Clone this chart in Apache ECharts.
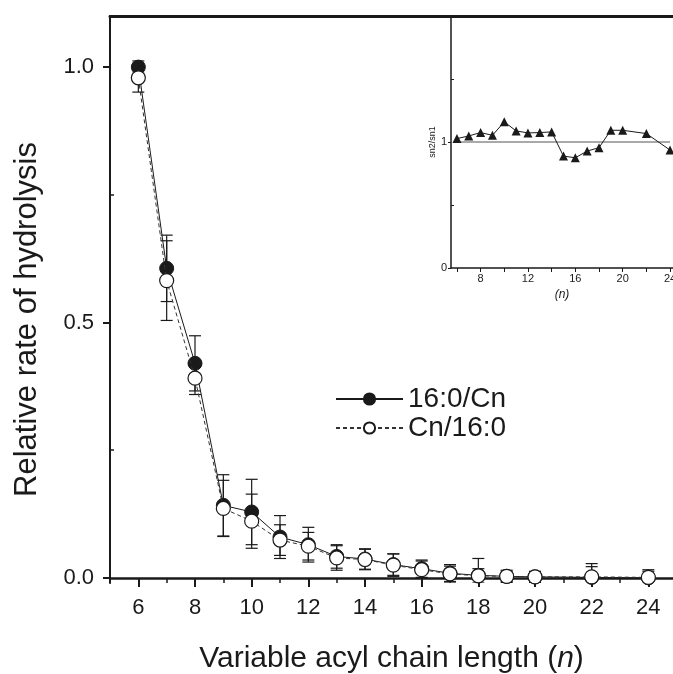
<!DOCTYPE html>
<html>
<head>
<meta charset="utf-8">
<script src="https://cdn.jsdelivr.net/npm/echarts@6/dist/echarts.min.js"></script>
<style>
html,body{margin:0;padding:0;background:#fff;}
#chart{width:673px;height:674px;}
</style>
</head>
<body>
<div id="chart"></div>
<script>
// chain length n of the variable acyl chain
let chainLength=[6,7,8,9,10,11,12,13,14,15,16,17,18,19,20,22,24];
// 16:0/Cn (filled circles)
let rateA=[1.0,0.606,0.42,0.142,0.129,0.080,0.065,0.042,0.037,0.026,0.018,0.009,0.005,0.003,0.002,0.001,0.0];
let errA=[0.012,0.065,0.054,0.060,0.064,0.042,0.034,0.023,0.020,0.021,0.017,0.017,0.033,0.012,0.011,0.027,0.016];
// Cn/16:0 (open circles)
let rateB=[0.979,0.582,0.391,0.136,0.111,0.074,0.062,0.039,0.036,0.025,0.016,0.008,0.004,0.003,0.002,0.002,0.001];
let errB=[0.028,0.078,0.032,0.055,0.053,0.030,0.027,0.024,0.020,0.022,0.017,0.015,0.014,0.010,0.010,0.020,0.012];
// inset: sn2/sn1
let ratio=[1.027,1.048,1.075,1.053,1.160,1.088,1.072,1.075,1.080,0.888,0.875,0.928,0.955,1.093,1.093,1.067,0.936];
let refLine=[[6,1],[24,1]];

let xTicks=[6,8,10,12,14,16,18,20,22,24];
let xMinorTicks=[5,7,9,11,13,15,17,19,21,23];
let yTicks=[0,0.5,1.0];
let yMinorTicks=[0.25,0.75];
let insetXTicks=[6,8,10,12,14,16,18,20,22,24];
let insetXLabels=[8,12,16,20,24];
let insetYTicks=[0,1];
let insetYMinorTicks=[0.5,1.5];

const font='"Liberation Sans", Arial, Helvetica, sans-serif';
const ink='#1a1a1a';

function errData(values,errs){
    return chainLength.map(function(x,i){ return [x,values[i]-errs[i],values[i]+errs[i]]; });
}

function renderErr(params,api){
    let x=api.value(0);
    let lo=api.coord([x,api.value(1)]);
    let hi=api.coord([x,api.value(2)]);
    let half=6;
    let st={stroke:ink,lineWidth:1.2};
    let cs=params.coordSys;
    return {
        type:'group',
        clipPath:{type:'rect',shape:{x:cs.x,y:cs.y,width:cs.width,height:cs.height}},
        children:[
            {type:'line',shape:{x1:lo[0],y1:lo[1],x2:hi[0],y2:hi[1]},style:st},
            {type:'line',shape:{x1:lo[0]-half,y1:lo[1],x2:lo[0]+half,y2:lo[1]},style:st},
            {type:'line',shape:{x1:hi[0]-half,y1:hi[1],x2:hi[0]+half,y2:hi[1]},style:st}
        ]
    };
}

function pairs(xs,ys){
    return xs.map(function(x,i){ return [x,ys[i]]; });
}

let chart=echarts.init(document.getElementById('chart'),null,{renderer:'canvas'});

let option={
    backgroundColor:'#fff',
    animation:false,
    textStyle:{fontFamily:font,color:ink},
    grid:[
        {left:110,top:16,right:0,bottom:91,outerBoundsMode:'none',containLabel:false},
        {left:451,top:16,width:222,height:252,outerBoundsMode:'none',containLabel:false,
         show:true,backgroundColor:'#fff',borderWidth:0}
    ],
    legend:{
        orient:'vertical',
        left:330,
        top:380,
        itemGap:1,
        itemWidth:67,
        itemHeight:14,
        textStyle:{fontFamily:font,fontSize:28,color:ink,padding:[0,0,0,0]},
        data:['16:0/Cn','Cn/16:0']
    },
    xAxis:[
        {
            type:'value',gridIndex:0,min:5,max:24.87,position:'bottom',
            axisLine:{show:true,lineStyle:{color:ink,width:2.5}},
            axisTick:{show:true,length:9,customValues:xTicks,lineStyle:{color:ink,width:2}},
            axisLabel:{show:true,customValues:xTicks,fontSize:22,color:ink,margin:14,fontFamily:font},
            splitLine:{show:false},
            name:'Variable acyl chain length ({i|n})',
            nameLocation:'middle',
            nameGap:61,
            nameTextStyle:{fontSize:30,color:ink,fontFamily:font,
                rich:{i:{fontSize:30,fontStyle:'italic',color:ink,fontFamily:font}}}
        },
        {
            type:'value',gridIndex:0,min:5,max:24.87,position:'bottom',
            axisLine:{show:false},
            axisTick:{show:true,length:5,customValues:xMinorTicks,lineStyle:{color:ink,width:1.5}},
            axisLabel:{show:false},
            splitLine:{show:false}
        },
        {
            type:'value',gridIndex:0,min:5,max:24.87,position:'top',
            axisLine:{show:true,lineStyle:{color:ink,width:3}},
            axisTick:{show:false},axisLabel:{show:false},splitLine:{show:false}
        },
        {
            type:'value',gridIndex:1,min:5.5,max:24.25,position:'bottom',
            axisLine:{show:true,lineStyle:{color:ink,width:1.5}},
            axisTick:{show:true,length:4,customValues:insetXTicks,lineStyle:{color:ink,width:1}},
            axisLabel:{show:true,customValues:insetXLabels,fontSize:11,color:ink,margin:5,fontFamily:font},
            splitLine:{show:false},
            name:'(n)',nameLocation:'middle',nameGap:21,
            nameTextStyle:{fontSize:12,fontStyle:'italic',color:ink,fontFamily:font}
        }
    ],
    yAxis:[
        {
            type:'value',gridIndex:0,min:-0.01,max:1.1,position:'left',
            axisLine:{show:true,lineStyle:{color:ink,width:2}},
            axisTick:{show:true,length:7,customValues:yTicks,lineStyle:{color:ink,width:2}},
            axisLabel:{show:true,customValues:yTicks,fontSize:22,color:ink,margin:16,fontFamily:font,
                formatter:function(v){ return v.toFixed(1); }},
            splitLine:{show:false},
            name:'Relative rate of hydrolysis',
            nameLocation:'middle',
            nameGap:67,
            nameTextStyle:{fontSize:31,color:ink,fontFamily:font,padding:[0,40,0,0]}
        },
        {
            type:'value',gridIndex:0,min:-0.01,max:1.1,position:'left',
            axisLine:{show:false},
            axisTick:{show:true,inside:true,length:4,customValues:yMinorTicks,lineStyle:{color:ink,width:1.5}},
            axisLabel:{show:false},splitLine:{show:false}
        },
        {
            type:'value',gridIndex:1,min:0,max:2,position:'left',
            axisLine:{show:true,lineStyle:{color:ink,width:1.5}},
            axisTick:{show:true,length:3,customValues:insetYTicks,lineStyle:{color:ink,width:1}},
            axisLabel:{show:true,customValues:insetYTicks,fontSize:11,color:ink,margin:4,fontFamily:font},
            splitLine:{show:false},
            name:'sn2/sn1',nameLocation:'middle',nameGap:4,
            nameTextStyle:{fontSize:9,color:ink,fontFamily:font}
        },
        {
            type:'value',gridIndex:1,min:0,max:2,position:'left',
            axisLine:{show:false},
            axisTick:{show:true,inside:true,length:3,customValues:insetYMinorTicks,lineStyle:{color:ink,width:1}},
            axisLabel:{show:false},splitLine:{show:false}
        }
    ],
    series:[
        {
            name:'errA',type:'custom',xAxisIndex:0,yAxisIndex:0,
            renderItem:renderErr,data:errData(rateA,errA),encode:{x:0,y:[1,2]},z:1,silent:true
        },
        {
            name:'errB',type:'custom',xAxisIndex:0,yAxisIndex:0,
            renderItem:renderErr,data:errData(rateB,errB),encode:{x:0,y:[1,2]},z:1,silent:true
        },
        {
            name:'16:0/Cn',type:'line',xAxisIndex:0,yAxisIndex:0,
            data:pairs(chainLength,rateA),
            symbol:'circle',symbolSize:14,showAllSymbol:true,
            lineStyle:{color:ink,width:1},
            itemStyle:{color:ink,borderColor:ink,borderWidth:1},
            z:3
        },
        {
            name:'Cn/16:0',type:'line',xAxisIndex:0,yAxisIndex:0,
            data:pairs(chainLength,rateB),
            symbol:'circle',symbolSize:14,showAllSymbol:true,
            lineStyle:{color:'#333',width:1,type:[4,3]},
            itemStyle:{color:'#fff',borderColor:ink,borderWidth:1.2},
            z:4
        },
        {
            name:'ref',type:'line',xAxisIndex:3,yAxisIndex:2,
            data:refLine,symbol:'none',
            lineStyle:{color:'#8c8c8c',width:1.5},z:2,silent:true
        },
        {
            name:'sn2/sn1',type:'line',xAxisIndex:3,yAxisIndex:2,
            data:pairs(chainLength,ratio),
            symbol:'triangle',symbolSize:9,showAllSymbol:true,
            lineStyle:{color:ink,width:1},
            itemStyle:{color:ink},z:3
        }
    ]
};
chart.setOption(option);
</script>
</body>
</html>
